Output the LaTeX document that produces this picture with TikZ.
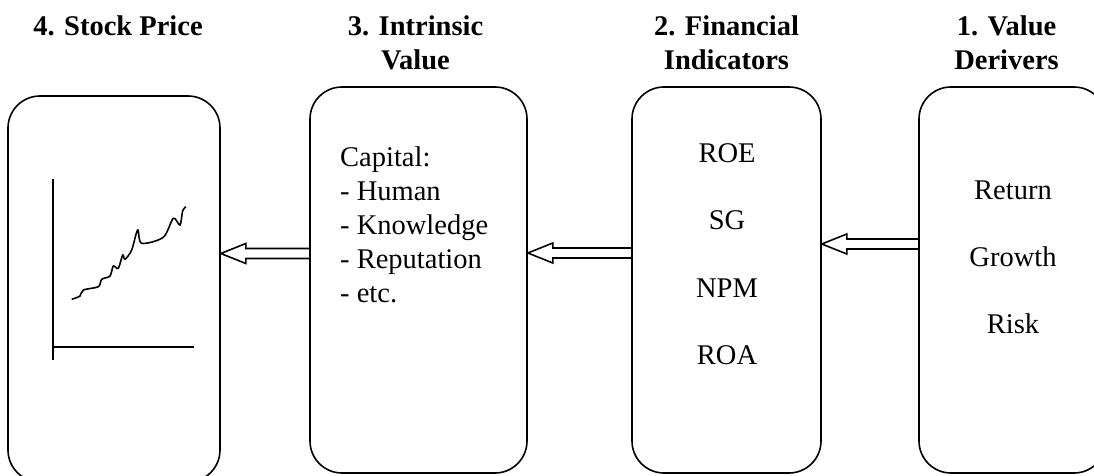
\documentclass[tikz,border=0pt]{standalone}
\usepackage{fontspec}
\setmainfont{Liberation Serif}
\usetikzlibrary{calc}

\begin{document}
\begin{tikzpicture}[x=1pt,y=-1pt,
box/.style={
% The shape:
rectangle,
draw=black,
line width=1.6pt,
rounded corners=32pt,
minimum height=386pt,
inner sep=0pt
},
heading/.style={
font=\bfseries\fontsize{28.5}{34}\selectfont,
align=center,
anchor=base,
inner sep=0pt
},
body/.style={
font=\fontsize{28.5}{#1}\selectfont,
inner sep=0pt
},
hollow/.style={line width=1.6pt,to path={
($(\tikztostart)+(0,-5)$) -- ($(\tikztotarget)+(25,-5)$) -- ($(\tikztotarget)+(25,-10)$) -- (\tikztotarget)
-- ($(\tikztotarget)+(25,10)$) -- ($(\tikztotarget)+(25,5)$) -- ($(\tikztostart)+(0,5)$)}}
]
\useasboundingbox (0,0) rectangle (1094,476);
% boxes
\node[box,minimum width=212pt] (stock) at (114,289) {};
\node[box,minimum width=217pt] (intrinsic) at (418.5,280) {};
\node[box,minimum width=189pt] (indicators) at (726.5,280) {};
\node[box,minimum width=187pt] (derivers) at (1012.5,280) {};
% headings (anchored on the last line)
\node[heading,xshift=4pt] (stockhead) at (stock |- 0,36) {4. Stock Price};
\node[heading,xshift=-3pt] (intrinsichead) at (intrinsic |- 0,70) {3. Intrinsic\\Value};
\node[heading] (indicatorshead) at (indicators |- 0,70) {2. Financial\\Indicators};
\node[heading,xshift=-6pt] (derivershead) at (derivers |- 0,70) {1. Value\\Derivers};
% contents
\node[body=34,align=left,anchor=base west] (capital) at (340,302) {Capital:\\- Human\\- Knowledge\\- Reputation\\- etc.};
\node[body=67.5,align=center,anchor=base] (ratios) at (727,364.5) {ROE\\SG\\NPM\\ROA};
\node[body=67,align=center,anchor=base] (drivers) at (1013,333) {Return\\Growth\\Risk};
% price chart
\draw[line width=1.6pt] (53,179) -- (53,360) (53,347) -- (194,347);
\draw[line width=1.6pt] plot[smooth,tension=0.5] coordinates {(71.7,299.3) (80,296) (83.3,290) (98.3,286.7) (101.7,279.3) (110,276) (113.3,266) (118.3,268.3) (122.7,255) (125,259.3) (131.7,250) (137.7,230) (141.7,243.3) (163.3,237.3) (173.3,218.3) (180,225) (182.7,210.7) (186,206.7)};
% arrows
\draw[hollow] (derivers.west |- 0,244) to (indicators.east |- 0,244);
\draw[hollow] (indicators.west |- 0,253) to (intrinsic.east |- 0,253);
\draw[hollow] (intrinsic.west |- 0,253.5) to (stock.east |- 0,253.5);
\end{tikzpicture}
\end{document}
